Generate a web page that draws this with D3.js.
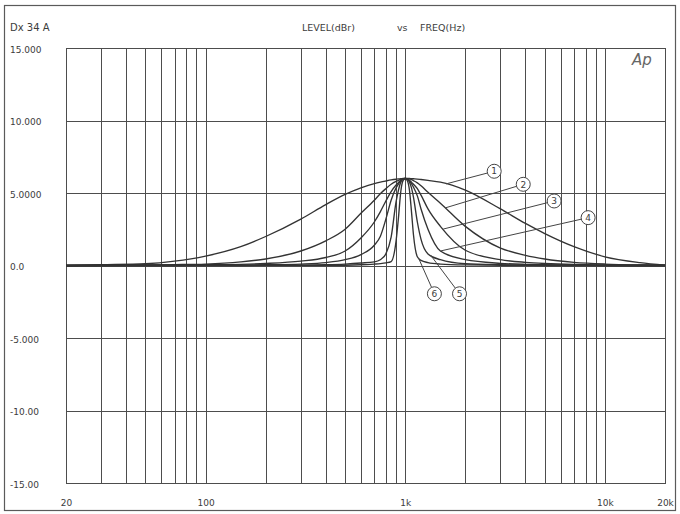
<!DOCTYPE html>
<html>
<head>
<meta charset="utf-8">
<script src="https://cdn.jsdelivr.net/npm/d3@7"></script>
<style>
body { margin: 0; background: #fff; }
figure { margin: 0; }
svg text { font-family: "DejaVu Sans", sans-serif; fill: #3c3c3c; }
.grid line { stroke: #4d4d4d; stroke-width: 1; shape-rendering: crispEdges; }
.grid path { display: none; }
</style>
</head>
<body>
<figure id="eqsweep"></figure>
<script>
// frequency points (Hz) the curves were read at
var freqs = [20, 30, 50, 70, 100, 150, 200, 300, 400, 500, 600, 700, 750, 800, 850,
	900, 925, 950, 975, 1000, 1025, 1050, 1075, 1100, 1150, 1200, 1300, 1500, 2000,
	3000, 4000, 5000, 7000, 10000, 15000, 20000];

// level in dBr for each bandwidth setting, widest (1) to narrowest (6)
var curve1 = [0.0, 0.05, 0.12, 0.3, 0.65, 1.3, 2.0, 3.2, 4.2, 4.9, 5.35, 5.65, 5.75, 5.83, 5.9,
	5.95, 5.97, 5.98, 6.0, 6.0, 6.0, 6.0, 5.99, 5.98, 5.96, 5.93, 5.87, 5.75, 5.2,
	3.9, 2.9, 2.2, 1.3, 0.6, 0.2, 0.03];
var curve2 = [0.0, 0.02, 0.04, 0.06, 0.1, 0.25, 0.45, 1.0, 1.7, 2.5, 3.6, 4.5, 4.95, 5.3, 5.6,
	5.8, 5.87, 5.95, 5.99, 6.0, 5.99, 5.97, 5.92, 5.85, 5.7, 5.5, 5.05, 4.3, 2.7,
	1.2, 0.7, 0.45, 0.22, 0.1, 0.04, 0.02];
var curve3 = [0.0, 0.01, 0.02, 0.03, 0.05, 0.08, 0.14, 0.3, 0.55, 1.0, 1.9, 3.0, 3.7, 4.45, 5.1,
	5.55, 5.72, 5.88, 5.97, 6.0, 5.96, 5.88, 5.75, 5.6, 5.3, 4.85, 3.9, 2.7, 1.05,
	0.4, 0.22, 0.14, 0.07, 0.04, 0.02, 0.01];
var curve4 = [0.0, 0.0, 0.01, 0.01, 0.02, 0.03, 0.05, 0.1, 0.2, 0.4, 0.75, 1.4, 2.0, 3.2, 4.5,
	5.35, 5.62, 5.85, 5.96, 6.0, 5.95, 5.85, 5.65, 5.4, 4.8, 3.9, 2.5, 1.0, 0.4,
	0.15, 0.08, 0.05, 0.03, 0.01, 0.0, 0.0];
var curve5 = [0.0, 0.0, 0.0, 0.0, 0.01, 0.01, 0.01, 0.02, 0.05, 0.1, 0.17, 0.25, 0.4, 0.8, 1.95,
	4.4, 5.2, 5.75, 5.95, 6.0, 5.95, 5.75, 5.35, 4.7, 3.0, 1.8, 0.8, 0.4, 0.12,
	0.05, 0.03, 0.02, 0.01, 0.0, 0.0, 0.0];
var curve6 = [0.0, 0.0, 0.0, 0.0, 0.0, 0.0, 0.01, 0.01, 0.01, 0.02, 0.05, 0.1, 0.13, 0.18, 0.27,
	1.7, 3.3, 5.1, 5.85, 6.0, 5.85, 5.2, 3.7, 2.1, 0.6, 0.35, 0.2, 0.1, 0.04,
	0.02, 0.01, 0.0, 0.0, 0.0, 0.0, 0.0];

var curves = [curve1, curve2, curve3, curve4, curve5, curve6];
var curveNames = ["1", "2", "3", "4", "5", "6"];

// circled number callouts: where the circle sits, and where the leader touches its curve
var labelFreq = [2790, 3900, 5570, 8240, 1870, 1400];
var labelDb = [6.5, 5.6, 4.45, 3.3, -1.95, -1.95];
var leaderFreq = [1600, 1590, 1550, 1500, 1340, 1165];

var yTicks = [15, 10, 5, 0, -5, -10, -15];
var yTickLabels = ["15.000", "10.000", "5.0000", "0.0", "-5.000", "-10.00", "-15.00"];
var xGrid = [30, 40, 50, 60, 70, 80, 90, 100, 200, 300, 400, 500, 600, 700, 800, 900,
	1000, 2000, 3000, 4000, 5000, 6000, 7000, 8000, 9000, 10000];
var xTicks = [20, 100, 1000, 10000, 20000];
var xTickLabels = ["20", "100", "1k", "10k", "20k"];

let dimensions = {
	width: 680,
	height: 514,
	margin: { top: 48, right: 15, bottom: 31, left: 66 }
};
dimensions.boundedWidth = dimensions.width - dimensions.margin.left - dimensions.margin.right;
dimensions.boundedHeight = dimensions.height - dimensions.margin.top - dimensions.margin.bottom;

var root = d3.select("figure#eqsweep")
	.append("svg")
	.attr("width", dimensions.width)
	.attr("height", dimensions.height);

// outer frame of the plotter sheet
root.append("rect")
	.attr("x", 4.5).attr("y", 5.5)
	.attr("width", 671).attr("height", 505)
	.attr("fill", "none")
	.attr("stroke", "#5a5a5a")
	.attr("stroke-width", 1.2);

var svg = root.append("g")
	.attr("transform", `translate(${dimensions.margin.left},${dimensions.margin.top})`);

var xScale = d3.scaleLog()
	.domain([20, 20000])
	.range([0, dimensions.boundedWidth]);

var yScale = d3.scaleLinear()
	.domain([-15, 15])
	.range([dimensions.boundedHeight, 0]);

// vertical grid
svg.append("g")
	.attr("class", "grid")
	.attr("transform", `translate(0,${dimensions.boundedHeight})`)
	.call(d3.axisBottom(xScale).tickValues(xGrid).tickSize(-dimensions.boundedHeight).tickFormat(""));

// horizontal grid
svg.append("g")
	.attr("class", "grid")
	.call(d3.axisLeft(yScale).tickValues(yTicks).tickSize(-dimensions.boundedWidth).tickFormat(""));

svg.append("rect")
	.attr("width", dimensions.boundedWidth)
	.attr("height", dimensions.boundedHeight)
	.attr("fill", "none")
	.attr("stroke", "#4d4d4d")
	.attr("shape-rendering", "crispEdges");

// y labels sit at the left edge of the sheet
var yAxis = svg.append("g")
	.call(d3.axisLeft(yScale).tickValues(yTicks).tickSize(0)
		.tickFormat((d, i) => yTickLabels[i]));
yAxis.select(".domain").remove();
yAxis.selectAll("text")
	.attr("x", 10 - dimensions.margin.left)
	.attr("dy", "0.45em")
	.attr("text-anchor", "start")
	.attr("font-size", 9);

var xAxis = svg.append("g")
	.attr("transform", `translate(0,${dimensions.boundedHeight})`)
	.call(d3.axisBottom(xScale).tickValues(xTicks).tickSize(0)
		.tickFormat((d, i) => xTickLabels[i]));
xAxis.select(".domain").remove();
xAxis.selectAll("text")
	.attr("y", 17)
	.attr("font-size", 9);

var line = d3.line()
	.x(d => xScale(d.f))
	.y(d => yScale(d.v))
	.curve(d3.curveMonotoneX);

svg.selectAll("path.response")
	.data(curves)
	.enter()
	.append("path")
	.attr("class", "response")
	.attr("d", c => line(c.map((v, i) => ({ f: freqs[i], v: v }))))
	.attr("fill", "none")
	.attr("stroke", "#333")
	.attr("stroke-width", 1.35);

// level of a curve between two read points (log frequency)
function levelAt(series, f) {
	var i = d3.bisectRight(freqs, f) - 1;
	i = Math.max(0, Math.min(i, freqs.length - 2));
	var t = (Math.log(f) - Math.log(freqs[i])) / (Math.log(freqs[i + 1]) - Math.log(freqs[i]));
	return series[i] + t * (series[i + 1] - series[i]);
}

var r = 7;
var callouts = svg.selectAll("g.callout")
	.data(curveNames)
	.enter()
	.append("g")
	.attr("class", "callout");

callouts.append("line")
	.each(function(name, i) {
		var x0 = xScale(leaderFreq[i]), y0 = yScale(levelAt(curves[i], leaderFreq[i]));
		var x1 = xScale(labelFreq[i]), y1 = yScale(labelDb[i]);
		var len = Math.hypot(x1 - x0, y1 - y0);
		d3.select(this)
			.attr("x1", x0).attr("y1", y0)
			.attr("x2", x1 - (x1 - x0) * r / len)
			.attr("y2", y1 - (y1 - y0) * r / len);
	})
	.attr("stroke", "#444")
	.attr("stroke-width", 1);

callouts.append("circle")
	.attr("cx", (d, i) => xScale(labelFreq[i]))
	.attr("cy", (d, i) => yScale(labelDb[i]))
	.attr("r", r)
	.attr("fill", "#fff")
	.attr("stroke", "#444")
	.attr("stroke-width", 1);

callouts.append("text")
	.attr("x", (d, i) => xScale(labelFreq[i]))
	.attr("y", (d, i) => yScale(labelDb[i]))
	.attr("dy", "0.36em")
	.attr("text-anchor", "middle")
	.attr("font-size", 9)
	.text(d => d);

// header line
root.append("text").attr("x", 10).attr("y", 31).attr("font-size", 10).text("Dx 34 A");
root.append("text").attr("x", 302).attr("y", 31).attr("font-size", 9.5).text("LEVEL(dBr)");
root.append("text").attr("x", 397).attr("y", 31).attr("font-size", 9.5).text("vs");
root.append("text").attr("x", 420).attr("y", 31).attr("font-size", 9.5).text("FREQ(Hz)");

root.append("text")
	.attr("x", 632).attr("y", 65)
	.attr("font-size", 15)
	.attr("font-style", "italic")
	.style("fill", "#666")
	.text("Ap");
</script>
</body>
</html>
